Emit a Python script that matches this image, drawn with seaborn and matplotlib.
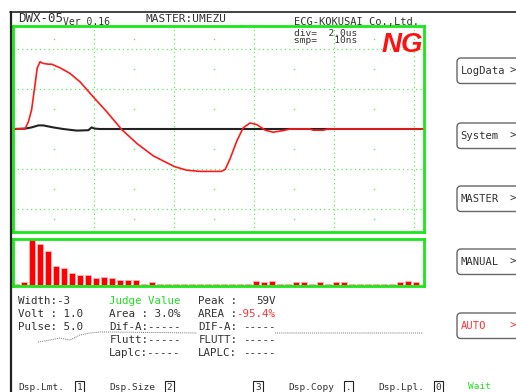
import numpy as np
import matplotlib
matplotlib.use("Agg")
import matplotlib.pyplot as plt
from matplotlib.patches import FancyBboxPatch
import seaborn as sns

# waveform: time in us, amplitude in screen divisions
red_t = [-0.03, 0.28, 0.36, 0.44, 0.53, 0.58, 0.65, 0.73, 0.86, 0.94, 1.15, 1.40, 1.65, 2.01, 2.32,
         2.69, 3.07, 3.48, 4.01, 4.32, 4.65, 5.18, 5.28, 5.40, 5.57, 5.73, 5.90, 6.07, 6.28, 6.48,
         6.73, 6.90, 7.40, 7.48, 7.73, 7.85, 10.25]
red_v = [0.0, 0.01, 0.18, 0.48, 1.14, 1.52, 1.68, 1.64, 1.62, 1.62, 1.53, 1.39, 1.18, 0.77, 0.43,
         -0.01, -0.36, -0.67, -0.94, -1.03, -1.06, -1.06, -1.01, -0.75, -0.30, 0.03, 0.15, 0.11, -0.03, -0.08,
         -0.04, 0.0, 0.0, -0.03, -0.03, 0.0, 0.0]
blk_t = [-0.03, 0.28, 0.44, 0.61, 0.73, 0.98, 1.23, 1.57, 1.86, 1.94, 2.01, 2.15, 10.25]
blk_v = [0.0, 0.01, 0.04, 0.09, 0.09, 0.04, 0.0, -0.04, -0.03, 0.04, 0.01, 0.0, 0.0]

# spectrum bars
hist_vals = [1, 3, 46, 41, 34, 19, 17, 12, 10, 10, 7, 8, 7, 5, 5, 5, 1, 3,
             1, 1, 1, 1, 1, 1, 1, 1, 1, 1, 1, 1,
             4, 3, 4, 1, 1, 3, 3, 1, 3, 1, 3, 3, 1, 1, 1, 1, 1, 1, 3, 4, 3]

# faint trace in the lower text area (screen pixels)
noise_x = [38, 50, 60, 70, 80, 90, 100, 110, 197, np.nan, 275, 423]
noise_y = [342, 340, 338, 340, 335, 333, 332, 332, 333, np.nan, 333, 333]

buttons = ["LogData", "System", "MASTER", "MANUAL", "AUTO"]
button_top = [58, 123, 186, 249, 313]

sns.set_style("white")
plt.rcParams['font.family'] = ['DejaVu Sans Mono']

W, H = 516, 392
fig = plt.figure(figsize=(W / 100, H / 100), dpi=100)
GREEN = '#18e818'
GRID = '#5fe85f'
TXT = '#333333'


def px_axes(x0, y0, x1, y1):
    return fig.add_axes([x0 / W, 1 - y1 / H, (x1 - x0) / W, (y1 - y0) / H])


# main scope screen
ax = px_axes(12.7, 26, 424, 232)
sns.lineplot(x=blk_t, y=blk_v, ax=ax, color='#222222', lw=1.5, sort=False)
sns.lineplot(x=red_t, y=red_v, ax=ax, color='#ff1a1a', lw=1.2, sort=False)
ax.set_xlim(-0.0325, 10.25)
ax.set_ylim(-2.575, 2.575)
ax.set_xticks([2, 4, 6, 8, 10])
ax.set_yticks([-2, -1, 1, 2])
ax.tick_params(length=0, labelbottom=False, labelleft=False)
ax.grid(True, color=GRID, ls=(0, (1, 2.5)), lw=0.9)
ax.set_axisbelow(True)
mx, my = np.meshgrid([1, 3, 5, 7, 9], [2.25, 1.5, 0.5, -0.5, -1.5, -2.25])
ax.scatter(mx.ravel(), my.ravel(), s=1.2, color=GRID, lw=0)
for s in ax.spines.values():
    s.set_color(GREEN)
    s.set_linewidth(2)
ax.text(0.684, 0.947, "div=  2.0us\nsmp=   10ns", transform=ax.transAxes, fontsize=6.8, color=TXT,
        va='center', linespacing=0.6)
ax.text(0.948, 0.908, "NG", transform=ax.transAxes, fontsize=20, color='#ff1111', va='center', ha='center',
        family='Liberation Sans', weight='bold', style='italic')

# spectrum panel
ax2 = px_axes(12.7, 239, 424, 286)
sns.barplot(x=list(range(len(hist_vals))), y=hist_vals, ax=ax2, color='#ff0000', saturation=1,
            width=0.75, edgecolor='#ffb3b3', linewidth=0.6)
ax2.set_xlim(-0.41, 51.04)
ax2.set_ylim(-1.3, 46)
ax2.set_xlabel('')
ax2.set_ylabel('')
ax2.set_xticks([])
ax2.set_yticks([])
for s in ax2.spines.values():
    s.set_color(GREEN)
    s.set_linewidth(2)

# screen frame, header, buttons and readouts
ov = fig.add_axes([0, 0, 1, 1], facecolor='none')
ov.set_xlim(0, W)
ov.set_ylim(H, 0)
ov.axis('off')
ov.plot([11, 11], [11.5, H], color='#222222', lw=1.6)
ov.plot([10, W], [11.8, 11.8], color='#222222', lw=1.2)
ov.plot(noise_x, noise_y, color='#777777', lw=0.7, ls=(0, (1, 1)))

ov.text(18, 18.5, "DWX-05", fontsize=9, color=TXT, va='center')
ov.text(63, 21.5, "Ver 0.16", fontsize=7, color=TXT, va='center')
ov.text(146, 19, "MASTER:UMEZU", fontsize=8, color=TXT, va='center')
ov.text(294, 22, "ECG-KOKUSAI Co.,Ltd.", fontsize=7.5, color=TXT, va='center')

for name, top in zip(buttons, button_top):
    col = '#ff3333' if name == "AUTO" else TXT
    ov.add_patch(FancyBboxPatch((457, top), 75, 25.5, boxstyle='round,pad=0,rounding_size=4',
                                fc='white', ec='#666666', lw=1.0))
    ov.text(460.5, top + 13, name, fontsize=7.6, color=col, va='center')
    ov.text(510, top + 13, ">", fontsize=7.6, color=col, va='center')

rows = [301, 314, 327, 340, 353]
fs = 7.8
for txt, y in zip(["Width:-3", "Volt : 1.0", "Pulse: 5.0"], rows):
    ov.text(18.3, y, txt, fontsize=fs, color=TXT, va='center')
col2 = ["Judge Value", "Area : 3.0%", "Dif-A:-----", "Flutt:-----", "Laplc:-----"]
for i, (txt, y) in enumerate(zip(col2, rows)):
    ov.text(109.3, y, txt, fontsize=fs, color='#22dd22' if i == 0 else TXT, va='center')
col3_lab = ["Peak :", "AREA :", "DIF-A:", "FLUTT:", "LAPLC:"]
col3_val = ["59V", "-95.4%", "-----", "-----", "-----"]
for i, (lab, val, y) in enumerate(zip(col3_lab, col3_val, rows)):
    ov.text(198.3, y, lab, fontsize=fs, color=TXT, va='center')
    ov.text(275.5, y, val, fontsize=fs, color='#ff3333' if i == 1 else TXT, va='center', ha='right')

box = dict(boxstyle='square,pad=0.18', fc='white', ec='#222222', lw=0.8)
yb = 387.5
ov.text(18, yb, "Dsp.Lmt.", fontsize=6.8, color=TXT, va='center')
ov.text(79.5, yb, "1", fontsize=6.8, color=TXT, va='center', ha='center', bbox=box)
ov.text(109, yb, "Dsp.Size", fontsize=6.8, color=TXT, va='center')
ov.text(169.5, yb, "2", fontsize=6.8, color=TXT, va='center', ha='center', bbox=box)
ov.text(258, yb, "3", fontsize=6.8, color=TXT, va='center', ha='center', bbox=box)
ov.text(288, yb, "Dsp.Copy", fontsize=6.8, color=TXT, va='center')
ov.text(348.5, yb, ".", fontsize=6.8, color=TXT, va='center', ha='center', bbox=box)
ov.text(378, yb, "Dsp.Lpl.", fontsize=6.8, color=TXT, va='center')
ov.text(438.5, yb, "0", fontsize=6.8, color=TXT, va='center', ha='center', bbox=box)
ov.text(468, 386.5, "Wait", fontsize=6.8, color='#22dd22', va='center')

fig.savefig("out.png", dpi=100, facecolor='white')
